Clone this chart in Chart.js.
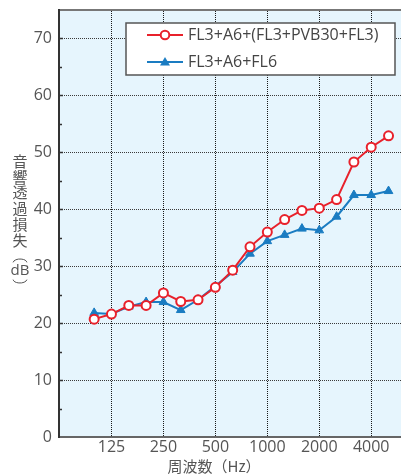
<!DOCTYPE html>
<html>
<head>
<meta charset="utf-8">
<script src="https://cdn.jsdelivr.net/npm/chart.js@4/dist/chart.umd.min.js"></script>
<style>
html,body{margin:0;padding:0;background:#fff;}
#wrap{width:401px;height:476px;position:relative;}
canvas{display:block;}
</style>
</head>
<body>
<div id="wrap"><canvas id="c" width="401" height="476" style="width:401px;height:476px"></canvas></div>
<script>
// Frequency bands (1/3 octave), Hz
const categories = ['100','125','160','200','250','315','400','500','630','800','1000','1250','1600','2000','2500','3150','4000','5000'];
// Sound transmission loss (dB)
const seriesLaminated = [20.7,21.6,23.1,23.1,25.3,23.8,24.1,26.3,29.3,33.4,36.0,38.2,39.8,40.2,41.7,48.3,50.9,52.9];
const seriesSingle    = [21.8,21.6,22.9,23.7,23.7,22.3,24.1,26.5,29.0,32.2,34.4,35.5,36.6,36.3,38.7,42.5,42.5,43.2];
const seriesNames = ['FL3+A6+(FL3+PVB30+FL3)','FL3+A6+FL6'];
const xTickLabels = ['125','250','500','1000','2000','4000'];
const yTickValues = [0,10,20,30,40,50,60,70];
const yTitleChars = ['音','響','透','過','損','失'];
const yTitleUnit = 'dB';
const xTitle = '周波数（Hz）';

const RED = '#e8212b', BLUE = '#1a7cc2', TXT = '#555';
const FONT = '"Open Sans", "Noto Sans", sans-serif';
const CJK = '"Noto Sans CJK JP", sans-serif';

const toPts = arr => arr.map((v,i)=>({x:i,y:v}));
const xTickPos = xTickLabels.map(l=>categories.indexOf(l));

const decor = {
  id:'decor',
  beforeDraw(chart){
    const {ctx, chartArea:a} = chart;
    ctx.save();
    ctx.fillStyle = '#e6f5fd';
    ctx.fillRect(a.left, a.top, a.right-a.left, a.bottom-a.top);
    ctx.restore();
  },
  beforeDatasetsDraw(chart){
    const {ctx, chartArea:a, scales} = chart;
    ctx.save();
    // dotted vertical grid (x ticks)
    ctx.fillStyle = '#1a1a1a';
    scales.x.ticks.forEach(t=>{
      const x = Math.round(scales.x.getPixelForValue(t.value));
      for(let y=Math.ceil(a.top)+1; y<a.bottom; y+=2) ctx.fillRect(x, y, 1, 1);
    });
    // dotted horizontal grid (y ticks)
    ctx.fillStyle = '#3a3a3a';
    scales.y.ticks.forEach(t=>{
      if(t.value===0) return;
      const y = Math.round(scales.y.getPixelForValue(t.value));
      for(let x=Math.ceil(a.left)+1; x<a.right; x+=2) ctx.fillRect(x, y, 1, 1);
    });
    ctx.restore();
  },
  afterDraw(chart){
    const {ctx, chartArea:a, scales} = chart;
    const ys = scales.y;
    ctx.save();
    // frame: top, bottom, left
    ctx.lineWidth = 2;
    ctx.strokeStyle = '#777';
    ctx.beginPath(); ctx.moveTo(a.left, a.top); ctx.lineTo(a.right, a.top); ctx.stroke();
    ctx.strokeStyle = '#666';
    ctx.beginPath(); ctx.moveTo(a.left, a.bottom); ctx.lineTo(a.right, a.bottom); ctx.stroke();
    ctx.strokeStyle = '#333';
    ctx.beginPath(); ctx.moveTo(a.left, a.top-1); ctx.lineTo(a.left, a.bottom+1); ctx.stroke();
    // inward ticks on y axis
    ctx.strokeStyle = '#333'; ctx.lineWidth = 1.5;
    for(let v=5; v<=70; v+=5){
      const y = Math.round(ys.getPixelForValue(v))+0.5;
      const len = (v%10===0)?4:3;
      ctx.beginPath(); ctx.moveTo(a.left, y); ctx.lineTo(a.left+len, y); ctx.stroke();
    }
    // legend box
    const lx=126, ly=23, lw=269, lh=52;
    ctx.fillStyle='#fff'; ctx.fillRect(lx,ly,lw,lh);
    ctx.strokeStyle='#555'; ctx.lineWidth=1.5; ctx.strokeRect(lx,ly,lw,lh);
    const rows=[{c:RED,y:35,m:'circle'},{c:BLUE,y:62,m:'tri'}];
    rows.forEach((r,i)=>{
      ctx.strokeStyle=r.c; ctx.lineWidth=2;
      ctx.beginPath(); ctx.moveTo(147,r.y); ctx.lineTo(183,r.y); ctx.stroke();
      if(r.m==='circle'){
        ctx.fillStyle='#fff'; ctx.beginPath(); ctx.arc(165,r.y,4.3,0,Math.PI*2); ctx.fill(); ctx.stroke();
      } else {
        ctx.fillStyle=r.c; ctx.beginPath(); ctx.moveTo(165,r.y-5); ctx.lineTo(170,r.y+3.5); ctx.lineTo(160,r.y+3.5); ctx.closePath(); ctx.fill();
      }
      ctx.fillStyle='#444'; ctx.font='16px '+FONT; ctx.textBaseline='middle'; ctx.textAlign='left';
      ctx.fillText(seriesNames[i],188,r.y);
    });
    // y title
    ctx.fillStyle=TXT; ctx.textAlign='center'; ctx.textBaseline='middle';
    ctx.font='15px '+CJK;
    yTitleChars.forEach((ch,i)=>ctx.fillText(ch,20,161+i*15.8));
    ctx.font='15px '+FONT;
    ctx.fillText(yTitleUnit,20,271);
    ctx.strokeStyle=TXT; ctx.lineWidth=1;
    ctx.beginPath(); ctx.ellipse(20,263,7,4,0,Math.PI*1.05,Math.PI*1.95); ctx.stroke();
    ctx.beginPath(); ctx.ellipse(20,279,7,4,0,Math.PI*0.05,Math.PI*0.95); ctx.stroke();
    // x title
    ctx.font='15px '+CJK;
    ctx.fillText(xTitle,214,466);
    ctx.restore();
  }
};

new Chart(document.getElementById('c'), {
  type:'line',
  data:{
    datasets:[
      {label:seriesNames[0], data:toPts(seriesLaminated), borderColor:RED, backgroundColor:'#fff',
       borderWidth:2, pointStyle:'circle', pointRadius:4.5, pointBorderWidth:2, pointBorderColor:RED, pointBackgroundColor:'#fff', tension:0},
      {label:seriesNames[1], data:toPts(seriesSingle), borderColor:BLUE, backgroundColor:BLUE,
       borderWidth:2, pointStyle:'triangle', pointRadius:5, pointBorderWidth:1, pointBorderColor:BLUE, pointBackgroundColor:BLUE, tension:0}
    ]
  },
  options:{
    responsive:false, animation:false, devicePixelRatio:1,
    layout:{autoPadding:false, padding:{top:10,right:0,left:0,bottom:0}},
    plugins:{legend:{display:false}, tooltip:{enabled:false}},
    scales:{
      x:{type:'linear', min:-2.03, max:17.72,
        afterBuildTicks(s){ s.ticks = xTickPos.map(v=>({value:v})); },
        afterFit(s){ s.height = 39; s.paddingLeft = 0; s.paddingRight = 0; },
        ticks:{ callback:(v)=>xTickLabels[xTickPos.indexOf(v)] ?? '', color:TXT, font:{family:FONT,size:16}, padding:1, maxRotation:0, autoSkip:false },
        grid:{ display:false, drawTicks:false },
        border:{ display:false }
      },
      y:{min:0, max:75,
        afterBuildTicks(s){ s.ticks = yTickValues.map(v=>({value:v})); },
        afterFit(s){ s.width = 59; s.paddingTop = 0; s.paddingBottom = 0; },
        ticks:{ color:TXT, font:{family:FONT,size:16}, padding:7 },
        grid:{ display:false, drawTicks:false },
        border:{ display:false }
      }
    }
  },
  plugins:[decor]
});
</script>
</body>
</html>
